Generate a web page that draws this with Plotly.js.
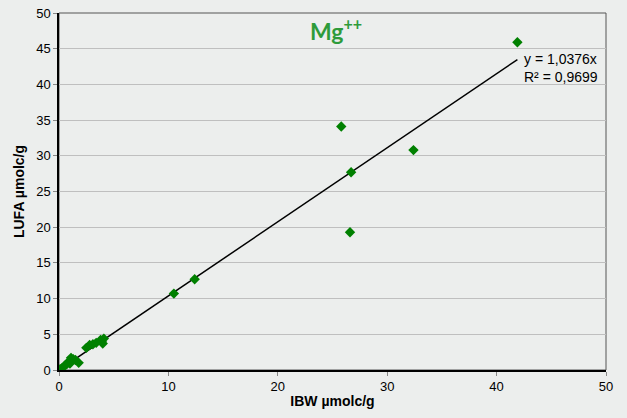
<!DOCTYPE html>
<html><head><meta charset="utf-8">
<script src="https://cdn.plot.ly/plotly-3.0.1.min.js"></script>
<style>html,body{margin:0;padding:0;background:#eceeed}</style>
</head><body>
<div id="chart" style="width:627px;height:418px"></div>
<script>
const ibw  = [0.1,0.3,0.5,0.7,0.9,1.1,1.3,1.5,1.8,1.0,2.5,2.8,3.1,3.4,3.8,4.1,4.0,3.9,10.5,12.4,26.6,25.8,26.7,32.4,41.9];
const lufa = [0.1,0.3,0.6,0.8,1.2,1.7,1.5,1.4,1.0,0.9,3.1,3.5,3.6,3.8,4.2,4.4,3.7,4.0,10.7,12.7,19.3,34.1,27.7,30.8,45.9];
const slope = 1.0376;
const trendX = [0, 41.9];
const trendY = trendX.map(v => slope * v);
const xTicks = [0,10,20,30,40,50];
const yTicks = [0,5,10,15,20,25,30,35,40,45,50];

const data = [
  {x: trendX, y: trendY, mode:'lines', line:{color:'#000000', width:1.5}, hoverinfo:'skip'},
  {x: ibw, y: lufa, mode:'markers', marker:{symbol:'diamond', color:'#008000', size:8}}
];
const layout = {
  width:627, height:418,
  margin:{l:59, r:21, t:13, b:48},
  paper_bgcolor:'#eceeed', plot_bgcolor:'#eceeed',
  showlegend:false,
  font:{family:'Liberation Sans, Arial, sans-serif', size:13, color:'#000'},
  xaxis:{range:[0,50], tickvals:xTicks, showgrid:false, zeroline:false,
    showline:true, linecolor:'#000', linewidth:1.5, ticks:'outside', ticklen:4, tickcolor:'#888',
    title:{text:'<b>IBW µmolc/g</b>', font:{size:14}, standoff:3}},
  yaxis:{range:[0,50], tickvals:yTicks, showgrid:true, gridcolor:'#bfbfbf', gridwidth:1, zeroline:false,
    showline:true, linecolor:'#000', linewidth:1.5, ticks:'outside', ticklen:4, tickcolor:'#888',
    title:{text:'<b>LUFA µmolc/g</b>', font:{size:14}, standoff:8}},
  shapes:[{type:'rect', xref:'paper', yref:'paper', x0:0, x1:1, y0:0, y1:1, line:{color:'#555', width:1}, layer:'below'}],
  annotations:[
    {x:42.3, y:42.3, xref:'x', yref:'y', xanchor:'left', yanchor:'middle', showarrow:false, align:'left',
     text:'y = 1,0376x<br>R² = 0,9699', font:{size:14, color:'#000'}},
    {x:0.506, y:0.955, xref:'paper', yref:'paper', xanchor:'center', yanchor:'middle', showarrow:false,
     text:'<b>Mg<sup>++</sup></b>', font:{family:'Lato, Open Sans, sans-serif', size:23, color:'#2e9b3a'}}
  ]
};
Plotly.newPlot('chart', data, layout, {displayModeBar:false});
</script>
</body></html>
